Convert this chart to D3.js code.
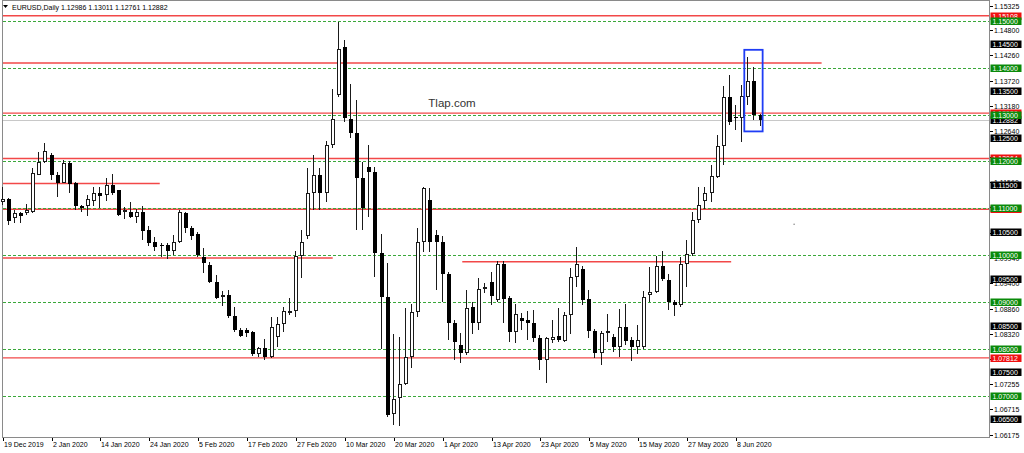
<!DOCTYPE html>
<html>
<head>
<meta charset="utf-8">
<script src="https://cdn.jsdelivr.net/npm/d3@7"></script>
<style>
html, body { margin: 0; padding: 0; background: #fff; overflow: hidden; }
svg { display: block; font-family: "Liberation Sans", Arial, sans-serif; }
</style>
</head>
<body>
<div id="chart"></div>
<script>
const width = 1024;
const height = 453;

// trading days shown on the chart
const dates = [
    "2019-12-19","2019-12-20","2019-12-23","2019-12-24","2019-12-26","2019-12-27","2019-12-30","2019-12-31",
    "2020-01-02","2020-01-03","2020-01-06","2020-01-07","2020-01-08","2020-01-09","2020-01-10","2020-01-13",
    "2020-01-14","2020-01-15","2020-01-16","2020-01-17","2020-01-20","2020-01-21","2020-01-22","2020-01-23",
    "2020-01-24","2020-01-27","2020-01-28","2020-01-29","2020-01-30","2020-01-31","2020-02-03","2020-02-04",
    "2020-02-05","2020-02-06","2020-02-07","2020-02-10","2020-02-11","2020-02-12","2020-02-13","2020-02-14",
    "2020-02-17","2020-02-18","2020-02-19","2020-02-20","2020-02-21","2020-02-24","2020-02-25","2020-02-26",
    "2020-02-27","2020-02-28","2020-03-02","2020-03-03","2020-03-04","2020-03-05","2020-03-06","2020-03-09",
    "2020-03-10","2020-03-11","2020-03-12","2020-03-13","2020-03-16","2020-03-17","2020-03-18","2020-03-19",
    "2020-03-20","2020-03-23","2020-03-24","2020-03-25","2020-03-26","2020-03-27","2020-03-30","2020-03-31",
    "2020-04-01","2020-04-02","2020-04-03","2020-04-06","2020-04-07","2020-04-08","2020-04-09","2020-04-10",
    "2020-04-13","2020-04-14","2020-04-15","2020-04-16","2020-04-17","2020-04-20","2020-04-21","2020-04-22",
    "2020-04-23","2020-04-24","2020-04-27","2020-04-28","2020-04-29","2020-04-30","2020-05-01","2020-05-04",
    "2020-05-05","2020-05-06","2020-05-07","2020-05-08","2020-05-11","2020-05-12","2020-05-13","2020-05-14",
    "2020-05-15","2020-05-18","2020-05-19","2020-05-20","2020-05-21","2020-05-22","2020-05-25","2020-05-26",
    "2020-05-27","2020-05-28","2020-05-29","2020-06-01","2020-06-02","2020-06-03","2020-06-04","2020-06-05",
    "2020-06-08","2020-06-09","2020-06-10","2020-06-11","2020-06-12"
];

const opens = [
    1.1114,1.1119,1.1079,1.1089,1.1089,1.1093,1.1171,1.1198,1.1214,1.1171,1.1155,1.1196,1.1153,1.1105,1.1104,1.1116,
    1.1133,1.1128,1.1150,1.1139,1.1093,1.1093,1.1081,1.1093,1.1053,1.1029,1.1022,1.1022,1.1008,1.1029,1.1091,1.1057,
    1.1045,1.0997,1.0979,1.0942,1.0910,1.0915,1.0871,1.0841,1.0841,1.0836,1.0790,1.0802,1.0782,1.0825,1.0853,1.0881,
    1.0881,1.0999,1.1040,1.1132,1.1171,1.1132,1.1235,1.1342,1.1445,1.1290,1.1260,1.1165,1.1188,1.1177,1.1004,1.0910,
    1.0661,1.0695,1.0725,1.0784,1.0878,1.1029,1.1118,1.1043,1.1029,1.0961,1.0855,1.0809,1.0791,1.0889,1.0855,1.0928,
    1.0942,1.0905,1.0981,1.0908,1.0837,1.0867,1.0862,1.0855,1.0823,1.0777,1.0819,1.0828,1.0818,1.0873,1.0953,1.0970,
    1.0906,1.0839,1.0792,1.0834,1.0825,1.0805,1.0848,1.0819,1.0804,1.0804,1.0915,1.0922,1.0976,1.0947,1.0901,1.0894,
    1.0981,1.1002,1.1075,1.1116,1.1133,1.1167,1.1232,1.1337,1.1295,1.1293,1.1338,1.1372,1.12986
];

const highs = [
    1.1146,1.1121,1.1096,1.1093,1.1109,1.1185,1.1221,1.1239,1.1217,1.1178,1.1204,1.1200,1.1157,1.1107,1.1128,1.1145,
    1.1145,1.1164,1.1173,1.1140,1.1102,1.1114,1.1098,1.1104,1.1062,1.1038,1.1026,1.1026,1.1043,1.1096,1.1093,1.1062,
    1.1050,1.1015,1.0986,1.0958,1.0924,1.0926,1.0889,1.0844,1.0844,1.0839,1.0805,1.0821,1.0869,1.0869,1.0890,1.0908,
    1.1008,1.1054,1.1185,1.1214,1.1187,1.1244,1.1354,1.1497,1.1459,1.1366,1.1331,1.1199,1.1235,1.1189,1.1045,1.0983,
    1.0831,1.0826,1.0888,1.0895,1.1057,1.1146,1.1143,1.1054,1.1040,1.0965,1.0862,1.0834,1.0926,1.0901,1.0951,1.0940,
    1.0965,1.0988,1.0988,1.0912,1.0897,1.0876,1.0881,1.0883,1.0830,1.0826,1.0862,1.0887,1.0878,1.0972,1.1018,1.0976,
    1.0926,1.0842,1.0838,1.0875,1.0832,1.0885,1.0896,1.0825,1.0851,1.0924,1.0974,1.0998,1.1008,1.0961,1.0905,1.0997,
    1.1032,1.1093,1.1146,1.1146,1.1192,1.1256,1.1361,1.1385,1.1320,1.1363,1.1422,1.1402,1.13011
];

const lows = [
    1.1107,1.1064,1.1068,1.1068,1.1086,1.1091,1.1171,1.1196,1.1160,1.1125,1.1153,1.1132,1.1096,1.1093,1.1084,1.1104,
    1.1100,1.1116,1.1128,1.1084,1.1077,1.1079,1.1068,1.1032,1.1019,1.1009,1.0997,1.0992,1.1001,1.1027,1.1047,1.1033,
    1.0997,1.0962,1.0940,1.0906,1.0892,1.0866,1.0837,1.0826,1.0826,1.0785,1.0784,1.0777,1.0780,1.0805,1.0837,1.0873,
    1.0868,1.0951,1.1035,1.1096,1.1096,1.1114,1.1228,1.1338,1.1285,1.1249,1.1054,1.1054,1.1082,1.0954,1.0801,1.0654,
    1.0637,1.0635,1.0723,1.0759,1.0869,1.1007,1.1007,1.0926,1.0901,1.0819,1.0777,1.0770,1.0787,1.0831,1.0841,1.0919,
    1.0894,1.0901,1.0855,1.0816,1.0812,1.0841,1.0819,1.0816,1.0756,1.0727,1.0812,1.0816,1.0816,1.0832,1.0933,1.0894,
    1.0823,1.0780,1.0766,1.0816,1.0794,1.0784,1.0809,1.0775,1.0790,1.0799,1.0901,1.0919,1.0946,1.0883,1.0871,1.0890,
    1.0933,1.0998,1.1068,1.1098,1.1114,1.1164,1.1192,1.1278,1.1266,1.1242,1.1320,1.1288,1.12761
];

const closes = [
    1.1119,1.1074,1.1089,1.1084,1.1096,1.1175,1.1198,1.1223,1.1171,1.1155,1.1196,1.1152,1.1104,1.1100,1.1120,1.1133,
    1.1126,1.1150,1.1133,1.1086,1.1097,1.1081,1.1093,1.1052,1.1027,1.1018,1.1019,1.1009,1.1029,1.1093,1.1057,1.1041,
    1.1000,1.0983,1.0942,1.0908,1.0915,1.0871,1.0841,1.0828,1.0835,1.0790,1.0802,1.0782,1.0848,1.0853,1.0881,1.0882,
    1.0999,1.1029,1.1132,1.1171,1.1132,1.1235,1.1290,1.1440,1.1292,1.1260,1.1165,1.1101,1.1177,1.1004,1.0910,1.0659,
    1.0693,1.0725,1.0784,1.0878,1.1028,1.1143,1.1029,1.1029,1.0961,1.0855,1.0814,1.0791,1.0888,1.0855,1.0929,1.0933,
    1.0912,1.0981,1.0907,1.0837,1.0874,1.0860,1.0856,1.0823,1.0777,1.0824,1.0826,1.0819,1.0873,1.0954,1.0981,1.0905,
    1.0838,1.0792,1.0834,1.0838,1.0805,1.0848,1.0818,1.0804,1.0819,1.0910,1.0922,1.0977,1.0949,1.0901,1.0893,1.0981,
    1.1002,1.1075,1.1107,1.1133,1.1169,1.1232,1.1337,1.1285,1.1292,1.1340,1.1372,1.1299,1.12882
];

// price axis
const priceTicks = [1.15325, 1.148, 1.1426, 1.1372, 1.1318, 1.1264, 1.121, 1.1156, 1.1102, 1.1048,
                    1.0994, 1.094, 1.0886, 1.0832, 1.0778, 1.07255, 1.06715, 1.06175];
const greenLevels = [1.15, 1.14, 1.13, 1.12, 1.11, 1.10, 1.09, 1.08, 1.07];
const blackLevels = [1.145, 1.135, 1.125, 1.115, 1.105, 1.095, 1.085, 1.075, 1.065];
const redLevels = [1.15108, 1.1303, 1.12064, 1.1098, 1.07812];
const currentPrice = 1.12882;

// drawn trend lines: price, first bar index, last bar index
const redSegments = [
    [1.1410, 0, 134],
    [1.1153, 0, 25.7],
    [1.0994, 0, 54],
    [1.0986, 75.2, 119.2]
];

// time axis
const xTickDates = ["2019-12-19","2020-01-02","2020-01-14","2020-01-24","2020-02-05","2020-02-17","2020-02-27",
                    "2020-03-10","2020-03-20","2020-04-01","2020-04-13","2020-04-23","2020-05-05","2020-05-15",
                    "2020-05-27","2020-06-08"];
const xTickLabels = ["19 Dec 2019","2 Jan 2020","14 Jan 2020","24 Jan 2020","5 Feb 2020","17 Feb 2020","27 Feb 2020",
                     "10 Mar 2020","20 Mar 2020","1 Apr 2020","13 Apr 2020","23 Apr 2020","5 May 2020","15 May 2020",
                     "27 May 2020","8 Jun 2020"];

// highlighted box around the last bars
const boxBars = [121.35, 124.35];
const boxPrices = [1.1438, 1.1264];

const plot = { left: 2, right: 989, top: 0, bottom: 437 };

const x = d3.scaleLinear().domain([0, dates.length - 1]).range([2.7, 760.5]);
const y = d3.scaleLinear().domain([1.06175, 1.15325]).range([434.6, 5.5]);
const fmt = d3.format(".5f");

const svg = d3.select("#chart").append("svg")
    .attr("width", width)
    .attr("height", height);

// frame
svg.append("rect")
    .attr("x", plot.left + 0.5).attr("y", plot.top + 0.5)
    .attr("width", plot.right - plot.left).attr("height", plot.bottom - plot.top)
    .attr("fill", "#fff").attr("stroke", "#8a8a8a");

const lines = svg.append("g");

// red support / resistance
lines.selectAll("line.red")
    .data(redLevels)
    .enter().append("line")
    .attr("class", "red")
    .attr("x1", plot.left + 1).attr("x2", plot.right)
    .attr("y1", d => y(d)).attr("y2", d => y(d))
    .attr("stroke", "#f24848").attr("stroke-width", 1.4);

lines.selectAll("line.seg")
    .data(redSegments)
    .enter().append("line")
    .attr("class", "seg")
    .attr("x1", d => Math.max(plot.left + 1, x(d[1]))).attr("x2", d => x(d[2]))
    .attr("y1", d => y(d[0])).attr("y2", d => y(d[0]))
    .attr("stroke", "#f24848").attr("stroke-width", 1.4);

// green round-number levels
lines.selectAll("line.green")
    .data(greenLevels)
    .enter().append("line")
    .attr("class", "green")
    .attr("x1", plot.left + 1).attr("x2", plot.right)
    .attr("y1", d => Math.round(y(d)) + 0.5).attr("y2", d => Math.round(y(d)) + 0.5)
    .attr("stroke", "#3aa83a").attr("stroke-dasharray", "3,2");

// current price
lines.append("line")
    .attr("x1", plot.left + 1).attr("x2", plot.right)
    .attr("y1", Math.round(y(currentPrice)) + 0.5).attr("y2", Math.round(y(currentPrice)) + 0.5)
    .attr("stroke", "#c8c8c8");

// watermark
svg.append("text")
    .attr("x", 452).attr("y", 107)
    .attr("text-anchor", "middle")
    .attr("font-size", "11.5px")
    .attr("fill", "#333")
    .text("Tlap.com");

// candles
const bars = d3.range(dates.length).map(i => ({
    i: i, o: opens[i], h: highs[i], l: lows[i], c: closes[i]
}));

const candle = svg.append("g")
    .attr("shape-rendering", "crispEdges")
    .selectAll("g")
    .data(bars)
    .enter().append("g");

candle.append("line")
    .attr("x1", d => Math.round(x(d.i)) - 0.5)
    .attr("x2", d => Math.round(x(d.i)) - 0.5)
    .attr("y1", d => Math.round(y(d.h)))
    .attr("y2", d => Math.round(y(d.l)))
    .attr("stroke", "#1a1a1a");

candle.append("rect")
    .attr("x", d => d.c >= d.o ? Math.round(x(d.i)) - 1.5 : Math.round(x(d.i)) - 2)
    .attr("y", d => {
        const top = Math.round(y(Math.max(d.o, d.c)));
        return d.c >= d.o ? top + 0.5 : top;
    })
    .attr("width", d => d.c >= d.o ? 3 : 4)
    .attr("height", d => {
        const h = Math.max(1, Math.round(y(Math.min(d.o, d.c))) - Math.round(y(Math.max(d.o, d.c))));
        return d.c >= d.o ? Math.max(1, h - 1) : h;
    })
    .attr("fill", d => d.c >= d.o ? "#fff" : "#000")
    .attr("stroke", d => d.c >= d.o ? "#1a1a1a" : "none");

// blue box on the last bars
svg.append("rect")
    .attr("x", x(boxBars[0])).attr("y", y(boxPrices[0]))
    .attr("width", x(boxBars[1]) - x(boxBars[0]))
    .attr("height", y(boxPrices[1]) - y(boxPrices[0]))
    .attr("fill", "none").attr("stroke", "#1f3df5").attr("stroke-width", 1.8);

// stray dot
svg.append("circle")
    .attr("cx", x(129.5)).attr("cy", y(1.1066)).attr("r", 0.8).attr("fill", "#888");

// header
svg.append("path")
    .attr("d", "M3,5 L8,5 L5.5,8 Z")
    .attr("fill", "#000");
svg.append("text")
    .attr("x", 12).attr("y", 10)
    .attr("font-size", "7px").attr("fill", "#000")
    .text("EURUSD,Daily  1.12986 1.13011 1.12761 1.12882");

// price axis
const axisG = svg.append("g").attr("font-size", "7px");

const tick = axisG.selectAll("g.tick")
    .data(priceTicks)
    .enter().append("g")
    .attr("class", "tick")
    .attr("transform", d => `translate(0,${Math.round(y(d))})`);
tick.append("line")
    .attr("x1", plot.right + 1).attr("x2", plot.right + 4)
    .attr("y1", 0.5).attr("y2", 0.5)
    .attr("stroke", "#000");
tick.append("text")
    .attr("x", 994).attr("y", 3)
    .attr("fill", "#000")
    .text(d => fmt(d));

function levelLabels(values, color, cls) {
    const g = axisG.selectAll("g." + cls)
        .data(values)
        .enter().append("g")
        .attr("class", cls)
        .attr("transform", d => `translate(0,${Math.round(y(d))})`);
    g.append("rect")
        .attr("x", 990.5).attr("y", -3.5)
        .attr("width", 31).attr("height", 7.5)
        .attr("fill", color);
    g.append("text")
        .attr("x", 992.5).attr("y", 2.8)
        .attr("fill", "#fff")
        .text(d => fmt(d));
}

levelLabels(redLevels, "#f01010", "lbl-red");
levelLabels([currentPrice], "#000", "lbl-cur");
levelLabels(blackLevels, "#000", "lbl-black");
levelLabels(greenLevels, "#0a8a0a", "lbl-green");

// time axis
const timeG = svg.append("g").attr("font-size", "7px");
const xt = timeG.selectAll("g")
    .data(xTickDates)
    .enter().append("g")
    .attr("transform", d => `translate(${Math.round(x(dates.indexOf(d)))},0)`);
xt.append("line")
    .attr("x1", 0.5).attr("x2", 0.5)
    .attr("y1", plot.bottom + 1).attr("y2", plot.bottom + 4)
    .attr("stroke", "#000");
xt.append("text")
    .attr("x", 1).attr("y", 447)
    .attr("fill", "#000")
    .text((d, i) => xTickLabels[i]);
</script>
</body>
</html>
